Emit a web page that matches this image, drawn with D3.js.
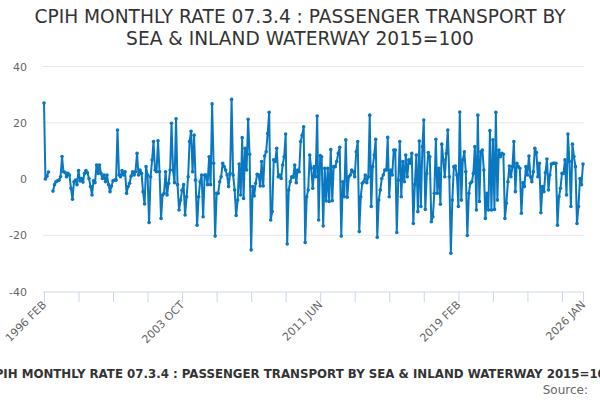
<!DOCTYPE html>
<html>
<head>
<meta charset="utf-8">
<script src="https://cdn.jsdelivr.net/npm/d3@7"></script>
<style>
  body { margin: 0; background: #fff; }
  svg { font-family: "DejaVu Sans", sans-serif; display: block; }
</style>
</head>
<body>
<div id="chart"></div>
<script>
// monthly values, 1996 FEB .. 2026 JAN (null = no value)
const values1996 = [27, 0, 1, 2.5, null, null, -4.3, -2, -1, -0.6, -0.4, 0.8, 8, 2.6, 2.4, 0.8, 2, 1.4, -3.3, -7.2,
  -1, -0.4, -2, 3, -0.7, 0.2, -1.1, 2, 3, 2.2, 0.2, -2.7, -5.7, -0.6, -1.3, 5, 2, 5, 2, 0.2,
  1.4, -1, 1.4, -2, -4.5, -2.5, -0.6, -0.4, -0.4, 17.4, 1.4, 0.8, 3, 1.4, 2.6, -5.1, -2.7, -1.5, 1, 2.6];
const values2001 = [1.4, 2.6, 9.1, 1.4, 3.2, 2, -4.5, -8.9, 4.4, 1.4, -15.5, 0.8, 6.8, 13.3, 3.2, 2.6, 13.6, 2.6, -14, -5.7,
  -5.1, 2.6, -5.7, -1.5, 3.2, 19.8, 3.2, -1.3, 21.4, -2, -11, -7.5, -4, -2, -12.8, -6.3, 0.8, 13.3, 17, 2.6,
  15.6, -0.4, -16.4, -6.3, -1, 1.4, -13.4, 1.4, 1.4, -2, 7.9, -2, 26.7, 5.6, -20.3, -5.1, -5.1, -1, 0.8, 5.6];
const values2006 = [4.4, 3.2, 1.4, -2.7, 2, 28.3, 1.4, -3.9, -13, -7.5, 5.3, -5.7, 14.7, -6.9, 10.9, 3.2, 21.2, 8.8, -25.2, -2.7,
  -6, -1.5, 1.7, 1.4, -2.5, 6.2, -2.5, 8.2, 9.7, 16.2, 23.7, -14.6, -11.6, 6.8, 6.2, 10.9, 0.8, 1.4, 0.2, 5,
  7.9, 16, -23.1, -3.9, -1, 0.8, 0.6, 5, -1.3, 3.2, 2.6, 13.3, 15.6, 18.6, -22.6, -6.3, -3.9, 8.5, 3.8, -3.3];
const values2011 = [4.4, 0.8, 22.4, -14.6, 8.3, 7.9, -16.7, 3.8, -7.8, 3.8, -8, 10.5, -7.7, 4.4, 4.4, 6.2, 9.1, 11.3, -20.3, -1,
  -6.3, 13.9, -6.5, 0.8, 1.4, 3.2, 2.6, 0.8, 9.7, 13.3, -18.7, -6.3, -1.5, -1, 1.4, -1.3, 0.8, 22.7, -9.8, 4.4,
  8.5, 14.1, -20.7, -7.5, -3.9, 0.2, 1.4, 3.2, 3.2, 14.8, -6.3, 3.2, 1.4, 10.3, 10.3, -19, -0.4, 13.3, -6.3, 6.2];
const values2016 = [-1, 8.5, 0.8, 6.8, 5.6, 9.1, -15.8, -2, 8.5, -11.6, 13.5, -9.8, 11.5, 21, -10.8, 2, 9.4, 7.9, -15.2, -13.4,
  -5.1, 14.1, -5.1, 3.8, -9, 12.4, 6.8, 0.8, 9.1, 17.4, 0.8, -26.4, -7.5, 4.4, 4.6, 1.4, -9.8, 23.8, -7.5, 6.8,
  9.7, 2.6, -20.1, -5.1, -1.5, -1, 2, 11.5, -11, 22.7, -8, 9.7, 10.3, 3.2, -14, -5.1, -11, 17.2, -11, 13.9];
const values2021 = [-10.8, 23.7, -7.5, 10.3, 7.9, 9.1, 8.8, -14, -8.6, -1, 4.6, 0.8, 4.4, 13.3, -4.5, 5.6, 4.4, 3.8, -12.2, -1.3,
  -2.7, 4.4, 1.4, 8.2, 0.8, -1, 2.6, 10.9, 9.4, 0.8, 5.6, -12, -2.7, -4.5, 2.2, 7.1, -3.9, 1.4, 5.3, 5.6,
  5.6, 5.6, -16.4, -6.3, -3.3, 2, 2, 6.8, -5.7, 16, 6.2, -9.8, 12.4, 8, 4.4, -15.8, -9.8, 0.2, -2, 5.3];

const allValues = [].concat(values1996, values2001, values2006, values2011, values2016, values2021);
const startDate = new Date(1996, 1, 1);
const data = allValues.map((v, i) => ({ date: d3.timeMonth.offset(startDate, i), value: v }));

const yTicks = [-40, -20, 0, 20, 40];
const labelDates = [new Date(1996, 1, 1), new Date(2003, 9, 1), new Date(2011, 5, 1), new Date(2019, 1, 1), new Date(2026, 0, 1)];
const monthNames = ['JAN', 'FEB', 'MAR', 'APR', 'MAY', 'JUN', 'JUL', 'AUG', 'SEP', 'OCT', 'NOV', 'DEC'];

const titleLines = ['CPIH MONTHLY RATE 07.3.4 : PASSENGER TRANSPORT BY', 'SEA & INLAND WATERWAY 2015=100'];
const captionText = 'CPIH MONTHLY RATE 07.3.4 : PASSENGER TRANSPORT BY SEA & INLAND WATERWAY 2015=100';

const width = 600, height = 400;
const plot = { left: 44, right: 583, top: 66.5, bottom: 291.5 };
const lineColor = '#0a78c0';

const svg = d3.select('#chart').append('svg')
  .attr('width', width)
  .attr('height', height);

const x = d3.scaleTime()
  .domain(d3.extent(data, d => d.date))
  .range([plot.left, plot.right]);

const y = d3.scaleLinear()
  .domain([-40, 40])
  .range([plot.bottom, plot.top]);

// title
svg.append('text')
  .attr('x', width / 2)
  .attr('text-anchor', 'middle')
  .attr('fill', '#333')
  .style('font-size', '18.6px')
  .selectAll('tspan')
  .data(titleLines)
  .join('tspan')
  .attr('x', width / 2)
  .attr('y', (d, i) => 23 + i * 22)
  .text(d => d);

// gridlines + y labels
svg.append('g')
  .selectAll('line')
  .data(yTicks.filter(t => t !== -40))
  .join('line')
  .attr('x1', plot.left - 1)
  .attr('x2', plot.right + 1)
  .attr('y1', d => y(d))
  .attr('y2', d => y(d))
  .attr('stroke', '#e6e6e6')
  .attr('stroke-width', 1);

svg.append('g')
  .selectAll('text')
  .data(yTicks)
  .join('text')
  .attr('x', 27)
  .attr('y', d => y(d) + 4)
  .attr('text-anchor', 'end')
  .attr('fill', '#666')
  .style('font-size', '11px')
  .text(d => d);

// x axis: ticks every 23 months, label every 4th
const tickDates = d3.range(0, 16).map(i => d3.timeMonth.offset(startDate, i * 23));
tickDates.push(new Date(2026, 0, 1));

const xAxis = d3.axisBottom(x)
  .tickValues(tickDates)
  .tickSize(10)
  .tickFormat('');

const gx = svg.append('g')
  .attr('transform', `translate(0,${plot.bottom + 0.5})`)
  .call(xAxis);
gx.select('.domain').attr('stroke', '#ccd6eb').attr('d', `M${plot.left - 1},0H${plot.right + 1}`);
gx.selectAll('.tick line').attr('stroke', '#ccd6eb');

svg.append('g')
  .selectAll('text')
  .data(labelDates)
  .join('text')
  .attr('transform', d => `translate(${x(d) + 3},${plot.bottom + 14}) rotate(-45)`)
  .attr('text-anchor', 'end')
  .attr('fill', '#666')
  .style('font-size', '11px')
  .text(d => `${d.getFullYear()} ${monthNames[d.getMonth()]}`);

// series line
const line = d3.line()
  .defined(d => d.value !== null)
  .x(d => x(d.date))
  .y(d => y(d.value));

svg.append('path')
  .datum(data)
  .attr('fill', 'none')
  .attr('stroke', lineColor)
  .attr('stroke-width', 2)
  .attr('stroke-linejoin', 'round')
  .attr('d', line);

svg.append('g')
  .selectAll('circle')
  .data(data.filter(d => d.value !== null))
  .join('circle')
  .attr('cx', d => x(d.date))
  .attr('cy', d => y(d.value))
  .attr('r', 1.8)
  .attr('fill', lineColor);

// caption + source
svg.append('text')
  .attr('x', width / 2)
  .attr('y', 378)
  .attr('text-anchor', 'middle')
  .attr('fill', '#333')
  .style('font-size', '11.8px')
  .style('font-weight', 'bold')
  .text(captionText);

svg.append('text')
  .attr('x', 588)
  .attr('y', 394)
  .attr('text-anchor', 'end')
  .attr('fill', '#666')
  .style('font-size', '12px')
  .text('Source:');
</script>
</body>
</html>
